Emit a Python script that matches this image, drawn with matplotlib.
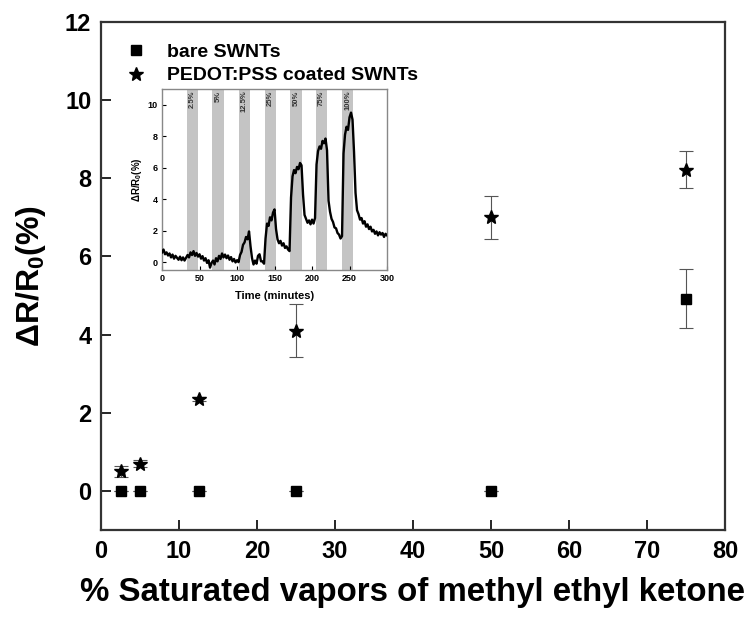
import numpy as np
import matplotlib
matplotlib.use("Agg")
import matplotlib.pyplot as plt

# main panel: % saturated MEK vapour vs response
conc = [2.5, 5, 12.5, 25, 50, 75]
bare = [0, 0, 0, 0, 0, 4.92]
bare_err = [0, 0, 0, 0, 0, 0.76]
pedot = [0.50, 0.70, 2.35, 4.10, 7.00, 8.22]
pedot_err = [0.15, 0.10, 0.05, 0.68, 0.55, 0.48]

# inset: response trace over time (2 min sampling)
time_min = np.arange(0, 301, 2)
trace = [0.62, 0.80, 0.50, 0.62, 0.42, 0.55, 0.30, 0.48, 0.22, 0.40,
         0.28, 0.15, 0.35, 0.12, 0.30, 0.10, 0.28,
         0.45, 0.30, 0.62, 0.45, 0.70, 0.40, 0.58, 0.35, 0.50, 0.22,
         0.38, 0.10, 0.25, -0.05, 0.12, -0.35,
         -0.05, 0.10, -0.15, 0.25, 0.05, 0.40, 0.20, 0.55, 0.30, 0.48,
         0.25, 0.42, 0.15, 0.32, 0.05, 0.20, -0.02, 0.12, 0.00,
         0.45, 0.65, 1.10, 1.25, 1.60, 1.45, 1.95, 1.00, 0.25, -0.15,
         0.10, -0.10, 0.40, 0.50, 0.05, 0.05, -0.10,
         1.50, 2.45, 2.30, 2.85, 2.65, 3.15, 3.35, 2.10, 1.45, 1.20,
         1.35, 1.05, 1.20, 0.90, 1.00, 0.80, 0.70,
         4.10, 5.45, 5.85, 5.65, 6.05, 5.90, 6.30, 6.15, 4.30, 3.00,
         2.75, 2.50, 2.65, 2.40, 2.70, 2.45, 2.80,
         6.20, 7.05, 7.35, 7.20, 7.70, 7.55, 7.85, 7.10, 3.90, 3.20,
         2.75, 2.55, 2.20, 2.15, 1.85, 1.75, 1.50, 1.65,
         6.90, 8.10, 8.60, 8.40, 9.20, 9.50, 9.05, 7.00, 4.40, 3.30,
         3.05, 2.70, 2.80, 2.45, 2.60, 2.25, 2.40, 2.10, 2.25, 1.95,
         2.05, 1.80, 1.95, 1.70, 1.90, 1.75, 1.85, 1.60, 1.80, 1.70]
exposure_start = [33, 67, 102, 137, 171, 205, 240]
exposure_len = 15
exposure_lbl = ["2.5%", "5%", "12.5%", "25%", "50%", "75%", "100%"]

plt.rcParams["font.family"] = ["Liberation Sans", "DejaVu Sans"]
plt.rcParams["font.weight"] = "bold"
plt.rcParams["mathtext.default"] = "regular"

fig = plt.figure(figsize=(7.46, 6.17), dpi=100)
ax = fig.add_axes([0.1354, 0.141, 0.8364, 0.8233])

ax.errorbar(conc, bare, yerr=bare_err, fmt="none", ecolor="#555555",
            elinewidth=0.8, capsize=5, capthick=0.8, zorder=2)
ax.errorbar(conc, pedot, yerr=pedot_err, fmt="none", ecolor="#555555",
            elinewidth=0.8, capsize=5, capthick=0.8, zorder=2)
ax.plot(conc, bare, "s", color="black", ms=7.5, ls="none", label="bare SWNTs", zorder=3)
ax.plot(conc, pedot, "*", color="black", ms=10.5, ls="none",
        label="PEDOT:PSS coated SWNTs", zorder=3)

ax.set_xlim(0, 80)
ax.set_ylim(-1, 12)
ax.set_xticks(range(0, 81, 10))
ax.set_yticks(range(0, 13, 2))
ax.tick_params(direction="in", length=7, width=1.2, labelsize=17, pad=7)
for sp in ax.spines.values():
    sp.set_linewidth(1.6)
    sp.set_color("#333333")

xl = ax.set_xlabel("% Saturated vapors of methyl ethyl ketone",
                   fontsize=22, fontweight="bold", labelpad=10)
ax.set_ylabel("ΔR/R$_0$(%)", fontsize=23, fontweight="bold", labelpad=12)

ax.legend(loc="upper left", frameon=False, fontsize=14, handlelength=1.2,
          handletextpad=1.0, borderaxespad=0.3, labelspacing=0.3,
          bbox_to_anchor=(0.015, 0.985))

# inset
ins = fig.add_axes([0.2172, 0.5624, 0.3016, 0.2934])
for s, lbl in zip(exposure_start, exposure_lbl):
    ins.axvspan(s, s + exposure_len, color="#c4c4c4", lw=0, zorder=1)
    ins.text(s + exposure_len / 2, 10.9, lbl, rotation=90, ha="center",
             va="top", fontsize=5.5, fontweight="bold", color="#333333")
ins.plot(time_min, trace, color="black", lw=1.7, zorder=3)
ins.set_xlim(0, 300)
ins.set_ylim(-0.5, 11)
ins.set_xticks(range(0, 301, 50))
ins.set_yticks(range(0, 11, 2))
ins.tick_params(direction="in", length=3, width=0.8, labelsize=6.5, pad=3)
for sp in ins.spines.values():
    sp.set_color("#888888")
    sp.set_linewidth(1.0)
ins.set_xlabel("Time (minutes)", fontsize=8, fontweight="bold", labelpad=6)
ins.set_ylabel("ΔR/R$_0$(%)", fontsize=7, fontweight="bold", labelpad=3)

# squeeze the x label to the reference width (condensed face in original)
fig.canvas.draw()
bb = xl.get_window_extent()
xl.set_fontsize(22 * 665 / bb.width)

fig.savefig("out.png", dpi=100, facecolor="white")
